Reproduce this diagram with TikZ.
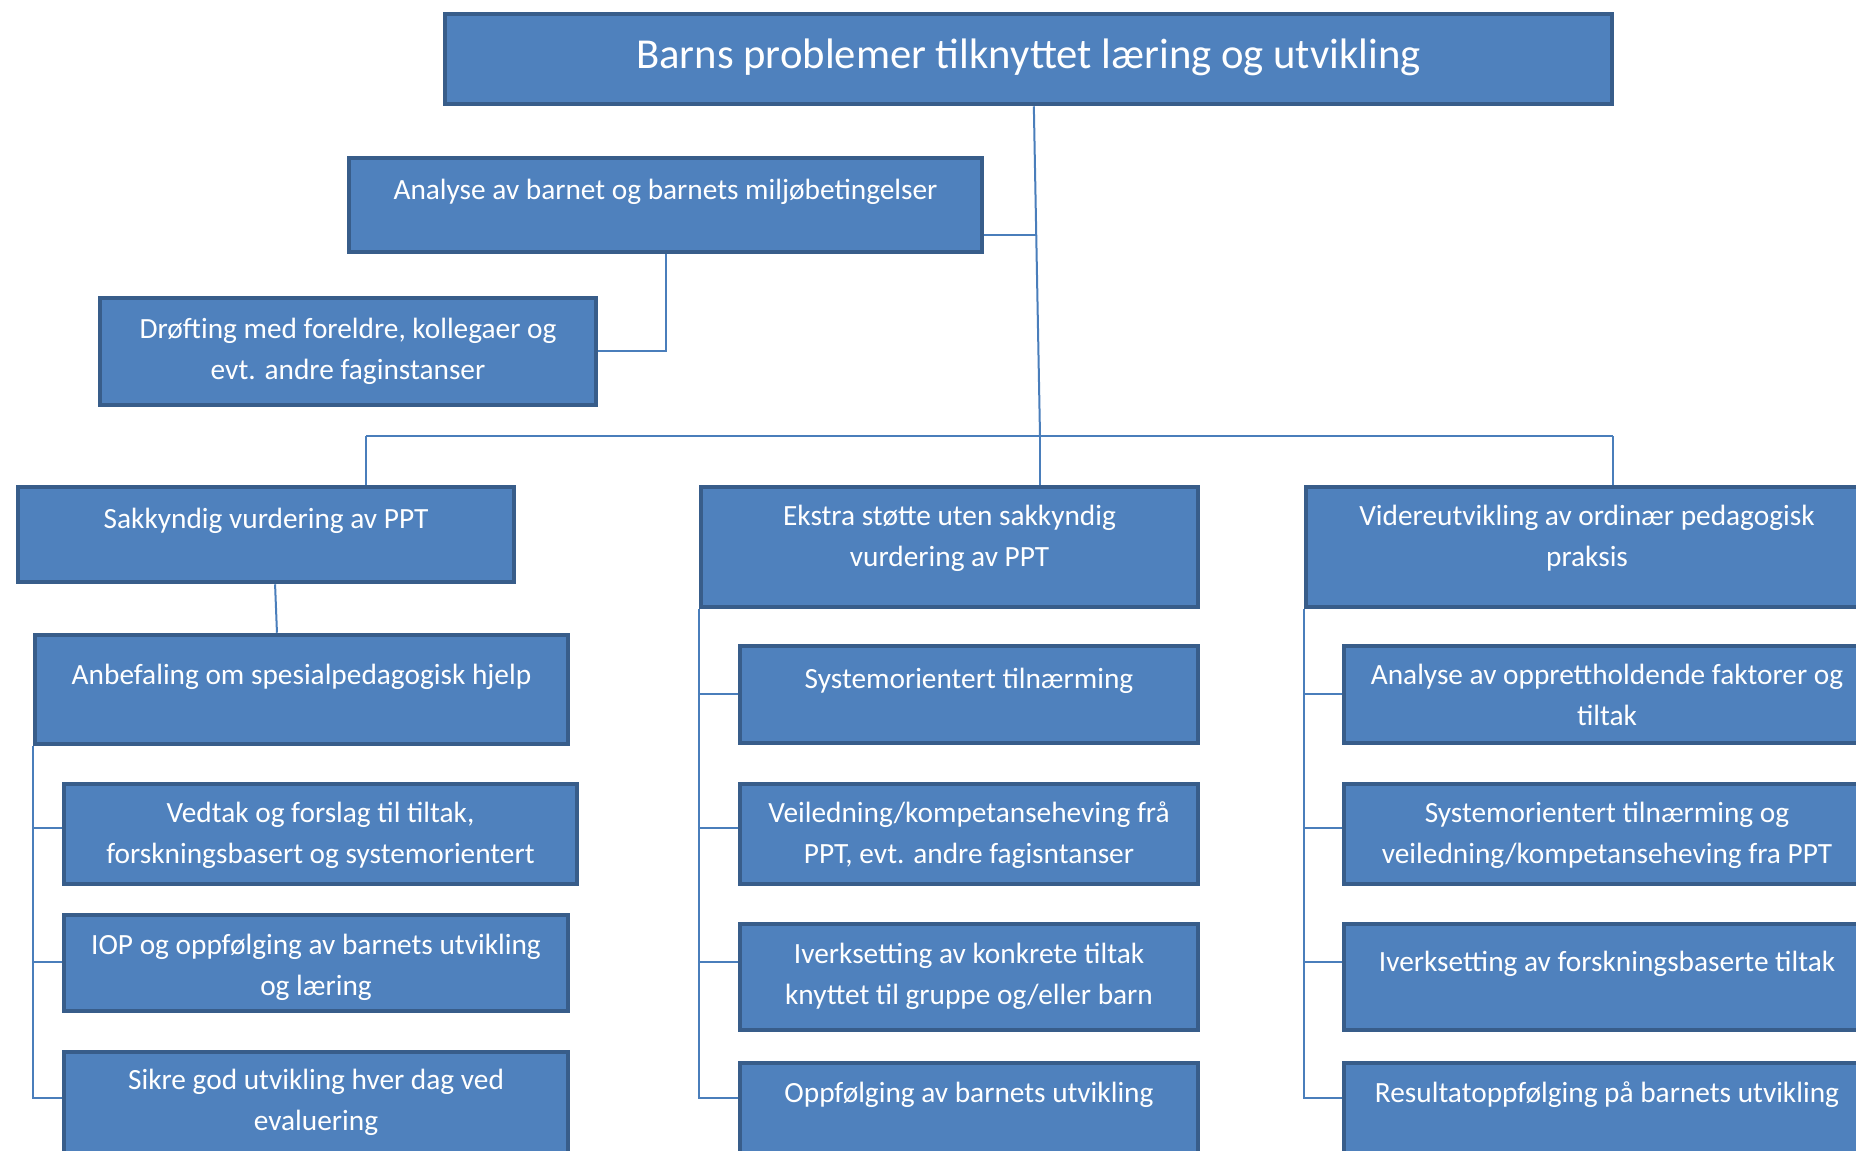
\documentclass[tikz,border=0pt]{standalone}
\usepackage{fontspec}
\setmainfont{Carlito}
\usetikzlibrary{positioning,fit}
\definecolor{boxfill}{RGB}{79,129,189}
\definecolor{boxline}{RGB}{56,93,138}
\definecolor{conline}{RGB}{74,126,187}
\tikzset{
	box/.style={draw=boxline, fill=boxfill, line width=1.7pt, inner sep=0pt},
	txt/.style={text=white, align=center, inner sep=0pt, font=\fontsize{11}{15.4}\selectfont},
	con/.style={draw=conline, line width=0.75pt},
}
\begin{document}
\begin{tikzpicture}[x=0.375pt,y=-0.375pt]
	\useasboundingbox (0,0) rectangle (1856,1151);
	\clip (0,0) rectangle (1856,1151);
	% boxes
	\node[box, fit={(445,14) (1612,104)}] (top) {};
	\node[box, fit={(349,158) (982,252)}] (ana) {};
	\node[box, fit={(100,298) (596,405)}] (dro) {};
	\node[box, fit={(18,487) (514,582)}] (sak) {};
	\node[box, fit={(701,487) (1198,607)}] (eks) {};
	\node[box, fit={(1306,487) (1868,607)}] (vid) {};
	\node[box, fit={(35,635) (568,744)}] (anb) {};
	\node[box, fit={(64,784) (577,884)}] (ved) {};
	\node[box, fit={(64,915) (568,1011)}] (iop) {};
	\node[box, fit={(64,1052) (568,1170)}] (sik) {};
	\node[box, fit={(740,646) (1198,743)}] (sys) {};
	\node[box, fit={(740,784) (1198,884)}] (vei) {};
	\node[box, fit={(740,924) (1198,1030)}] (ive) {};
	\node[box, fit={(740,1063) (1198,1170)}] (opp) {};
	\node[box, fit={(1344,646) (1870,743)}] (apf) {};
	\node[box, fit={(1344,784) (1870,884)}] (syv) {};
	\node[box, fit={(1344,924) (1870,1030)}] (ifo) {};
	\node[box, fit={(1344,1063) (1870,1170)}] (res) {};
	% texts
	\node[txt, font=\fontsize{16}{19}\selectfont, yshift=0.7pt] (top-t) at (top.center) {Barns problemer tilknyttet læring og utvikling};
	\node[txt, below=8.4pt of ana.north] (ana-t) {Analyse av barnet og barnets miljøbetingelser};
	\node[txt, below=8.1pt of dro.north] (dro-t) {Drøfting med foreldre, kollegaer og\\evt. andre faginstanser};
	\node[txt, below=8.4pt of sak.north] (sak-t) {Sakkyndig vurdering av PPT};
	\node[txt, below=7.3pt of eks.north] (eks-t) {Ekstra støtte uten sakkyndig\\vurdering av PPT};
	\node[txt, below=7.3pt of vid.north] (vid-t) {Videreutvikling av ordinær pedagogisk\\praksis};
	\node[txt, below=11.4pt of anb.north] (anb-t) {Anbefaling om spesialpedagogisk hjelp};
	\node[txt, below=7.3pt of ved.north] (ved-t) {Vedtak og forslag til tiltak,\\forskningsbasert og systemorientert};
	\node[txt, below=7.7pt of iop.north] (iop-t) {IOP og oppfølging av barnets utvikling\\og læring};
	\node[txt, below=6.9pt of sik.north] (sik-t) {Sikre god utvikling hver dag ved\\evaluering};
	\node[txt, below=8.8pt of sys.north] (sys-t) {Systemorientert tilnærming};
	\node[txt, below=7.3pt of vei.north] (vei-t) {Veiledning/kompetanseheving frå\\PPT, evt. andre fagisntanser};
	\node[txt, below=7.7pt of ive.north] (ive-t) {Iverksetting av konkrete tiltak\\knyttet til gruppe og/eller barn};
	\node[txt, below=7.7pt of opp.north] (opp-t) {Oppfølging av barnets utvikling};
	\node[txt, below=7.3pt of apf.north] (apf-t) {Analyse av opprettholdende faktorer og\\tiltak};
	\node[txt, below=7.3pt of syv.north] (syv-t) {Systemorientert tilnærming og\\veiledning/kompetanseheving fra PPT};
	\node[txt, below=10.7pt of ifo.north] (ifo-t) {Iverksetting av forskningsbaserte tiltak};
	\node[txt, below=7.7pt of res.north] (res-t) {Resultatoppfølging på barnets utvikling};
	% connectors
	\coordinate (busL) at (366,436);
	\coordinate (busM) at (1040,436);
	\coordinate (busR) at (1613,436);
	\coordinate (anajoin) at (1036,235);
	\coordinate (row1) at (0,694);
	\coordinate (row2) at (0,828);
	\coordinate (row3) at (0,962);
	\coordinate (row4) at (0,1098);
	\draw[con] ([xshift=2pt]top.south) -- (busM);
	\draw[con] (ana.east) ++(0,30) -- (anajoin);
	\draw[con] (ana.south) |- (dro.east);
	\draw[con] (busL) -- (busR);
	\draw[con] (busL) -- (busL |- sak.north);
	\draw[con] (busM) -- (busM |- eks.north);
	\draw[con] (busR) -- (busR |- vid.north);
	\draw[con] ([xshift=3.4pt]sak.south) -- ([xshift=-9.2pt]anb.north);
	\foreach \b/\r in {ved/row2, iop/row3, sik/row4}
		\draw[con] (anb.south west) |- (\b.west |- \r);
	\foreach \b/\r in {sys/row1, vei/row2, ive/row3, opp/row4}
		\draw[con] (eks.south west) |- (\b.west |- \r);
	\foreach \b/\r in {apf/row1, syv/row2, ifo/row3, res/row4}
		\draw[con] (vid.south west) |- (\b.west |- \r);
\end{tikzpicture}
\end{document}
